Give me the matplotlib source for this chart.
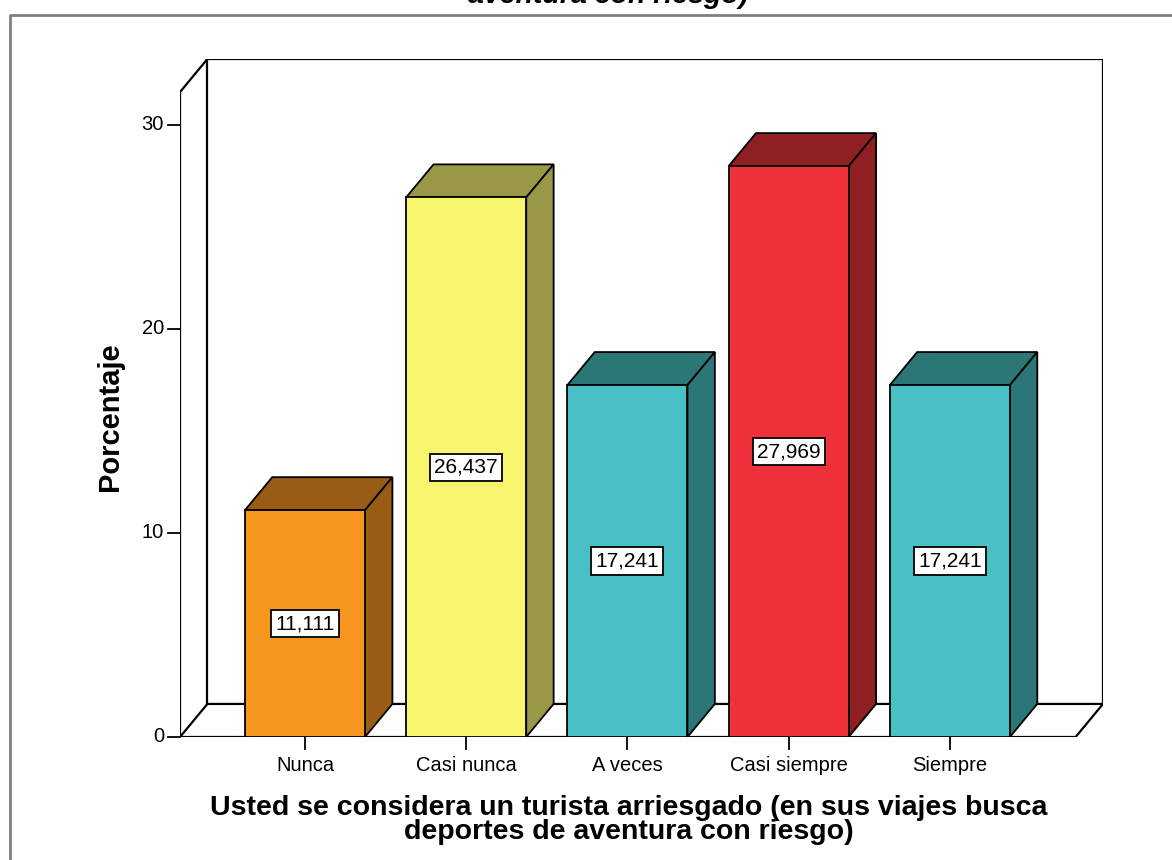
import matplotlib.pyplot as plt
from matplotlib.patches import Polygon
from matplotlib.lines import Line2D

categories = ["Nunca", "Casi nunca", "A veces", "Casi siempre", "Siempre"]
values = [11.111, 26.437, 17.241, 27.969, 17.241]
value_labels = ["11,111", "26,437", "17,241", "27,969", "17,241"]
front_colors = ["#F7961F", "#F8F46E", "#48C1C6", "#EF313B", "#48C1C6"]
side_colors = ["#995C14", "#9A9846", "#2B7677", "#8F1F23", "#2B7677"]
y_ticks = [0, 10, 20, 30]

W, H = 1172, 860
fig = plt.figure(figsize=(W / 100, H / 100), dpi=100)

# 3D look: depth offset in data units
dx = 0.17
dy = 1.62
x0, x1 = -0.775, 4.95
ytop = 31.6
bar_w = 0.745

ax = fig.add_axes([180 / W, (H - 737) / H, (1103 - 180) / W, (737 - 59) / H])
ax.set_xlim(x0, x1)
ax.set_ylim(0, ytop + dy)
ax.axis("off")

lw = 1.6
# back wall
ax.plot([x0 + dx, x0 + dx, x1, x1], [dy, ytop + dy, ytop + dy, dy], color="black", lw=lw)
# left side wall
ax.plot([x0, x0, x0 + dx], [0, ytop, ytop + dy], color="black", lw=lw)
# floor
ax.plot([x0, x1 - dx, x1, x0 + dx, x0], [0, 0, dy, dy, 0], color="black", lw=lw)

for i, v in enumerate(values):
    left = i - bar_w / 2
    right = i + bar_w / 2
    ax.add_patch(Polygon([(left, v), (left + dx, v + dy), (right + dx, v + dy), (right, v)],
                         closed=True, facecolor=side_colors[i], edgecolor="black", lw=1.3, zorder=3))
    ax.add_patch(Polygon([(right, 0), (right + dx, dy), (right + dx, v + dy), (right, v)],
                         closed=True, facecolor=side_colors[i], edgecolor="black", lw=1.3, zorder=3))
ax.bar(range(len(values)), values, width=bar_w, color=front_colors, edgecolor="black",
       linewidth=1.3, zorder=4)

for i, (v, lab) in enumerate(zip(values, value_labels)):
    ax.text(i, v / 2, lab, ha="center", va="center", fontsize=15, family="Liberation Sans",
            zorder=5, bbox=dict(boxstyle="square,pad=0.2", fc="white", ec="black", lw=1.3))

# y ticks on the front axis
for t in y_ticks:
    ax.plot([x0 - 0.075, x0], [t, t], color="black", lw=1.3, clip_on=False)
    ax.text(x0 - 0.1, t, str(t), ha="right", va="center", fontsize=14.5, family="Liberation Sans")

# x ticks and labels
for i, c in enumerate(categories):
    ax.plot([i, i], [0, -0.6], color="black", lw=1.3, clip_on=False)
    ax.text(i, -0.95, c, ha="center", va="top", fontsize=14.5, family="Liberation Sans")

fig.text(110 / W, 1 - 417 / H, "Porcentaje", rotation=90, ha="center", va="center",
         fontsize=21, fontweight="bold", family="Liberation Sans")
fig.text(629 / W, 1 - 820 / H,
         "Usted se considera un turista arriesgado (en sus viajes busca\ndeportes de aventura con riesgo)",
         ha="center", va="center", fontsize=20.5, fontweight="bold", linespacing=0.9,
         family="Liberation Sans")
fig.text(608 / W, 1 - 3 / H, "aventura con riesgo)", ha="center", va="baseline",
         fontsize=20.5, fontweight="bold", style="italic", family="Liberation Sans")

# outer frame
fig.add_artist(Line2D([10 / W, 10 / W, 1], [0, 1 - 15 / H, 1 - 15 / H],
                      transform=fig.transFigure, color="#7f7f7f", lw=2))

fig.savefig("out.png", dpi=100)
